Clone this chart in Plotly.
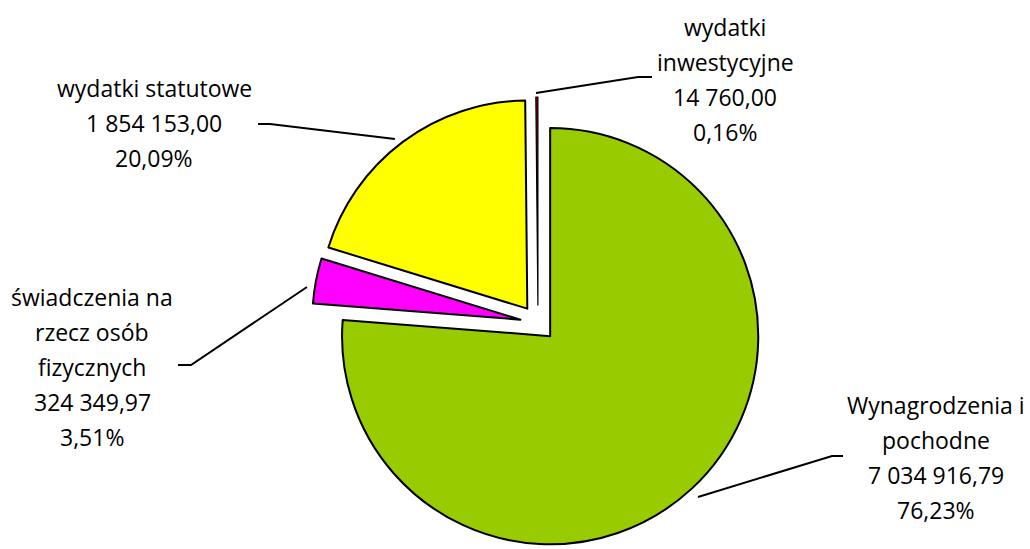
import plotly.graph_objects as go

# ---- data ----
categories = ["Wynagrodzenia i pochodne", "świadczenia na rzecz osób fizycznych",
              "wydatki statutowe", "wydatki inwestycyjne"]
label_lines = [["Wynagrodzenia i", "pochodne"],
               ["świadczenia na", "rzecz osób", "fizycznych"],
               ["wydatki statutowe"],
               ["wydatki", "inwestycyjne"]]
values = [7034916.79, 324349.97, 1854153.00, 14760.00]
colors = ["#99CC00", "#FF00FF", "#FFFF00", "#990000"]

W, H = 1030, 549


def fmt_num(v):
    s = f"{v:,.2f}"
    return s.replace(",", " ").replace(".", ",")


def fmt_pct(v, tot):
    return f"{100 * v / tot:.2f}".replace(".", ",") + "%"


total = sum(values)

fig = go.Figure()

# pie geometry: centre ~ (538, 323) px, pull relative to radius
pull = 0.086
cx, box_h = 538, 452
fig.add_trace(go.Pie(
    labels=categories, values=values, sort=False, direction="clockwise",
    rotation=0, pull=[pull] * len(values),
    marker=dict(colors=colors, line=dict(color="black", width=[2, 2, 2, 1.2])),
    textinfo="none", hoverinfo="label+value+percent", showlegend=False,
    domain=dict(x=[cx / W - 0.4, cx / W + 0.4], y=[0, box_h / H]),
))

# label placement (x centre, y of first line) in pixels
label_pos = [(936, 405), (92, 297), (154, 88), (725, 27)]
line_gap = 35
font = dict(family="Open Sans, sans-serif", size=23, color="#000000")

for i, (x0, y0) in enumerate(label_pos):
    lines = label_lines[i] + [fmt_num(values[i]), fmt_pct(values[i], total)]
    for k, t in enumerate(lines):
        fig.add_annotation(x=x0 / W, y=1 - (y0 + k * line_gap) / H, xref="paper", yref="paper",
                           text=t, showarrow=False, xanchor="center", yanchor="middle", font=font)

# leader lines (pixel paths)
leaders = [
    [(698, 497), (832, 456), (843, 456)],
    [(307, 287), (191, 365), (178, 365)],
    [(395, 139), (270, 124), (258, 124)],
    [(536, 93), (638, 77), (652, 77)],
]
for pts in leaders:
    path = "M " + " L ".join(f"{x / W:.5f},{1 - y / H:.5f}" for x, y in pts)
    fig.add_shape(type="path", path=path, xref="paper", yref="paper",
                  line=dict(color="black", width=2), layer="below")

fig.update_layout(width=W, height=H, margin=dict(l=0, r=0, t=0, b=0),
                  paper_bgcolor="white", plot_bgcolor="white")

fig.write_html("out.html", config={"displayModeBar": False},
               post_script="document.body.style.margin='0';document.body.style.overflow='hidden';")
